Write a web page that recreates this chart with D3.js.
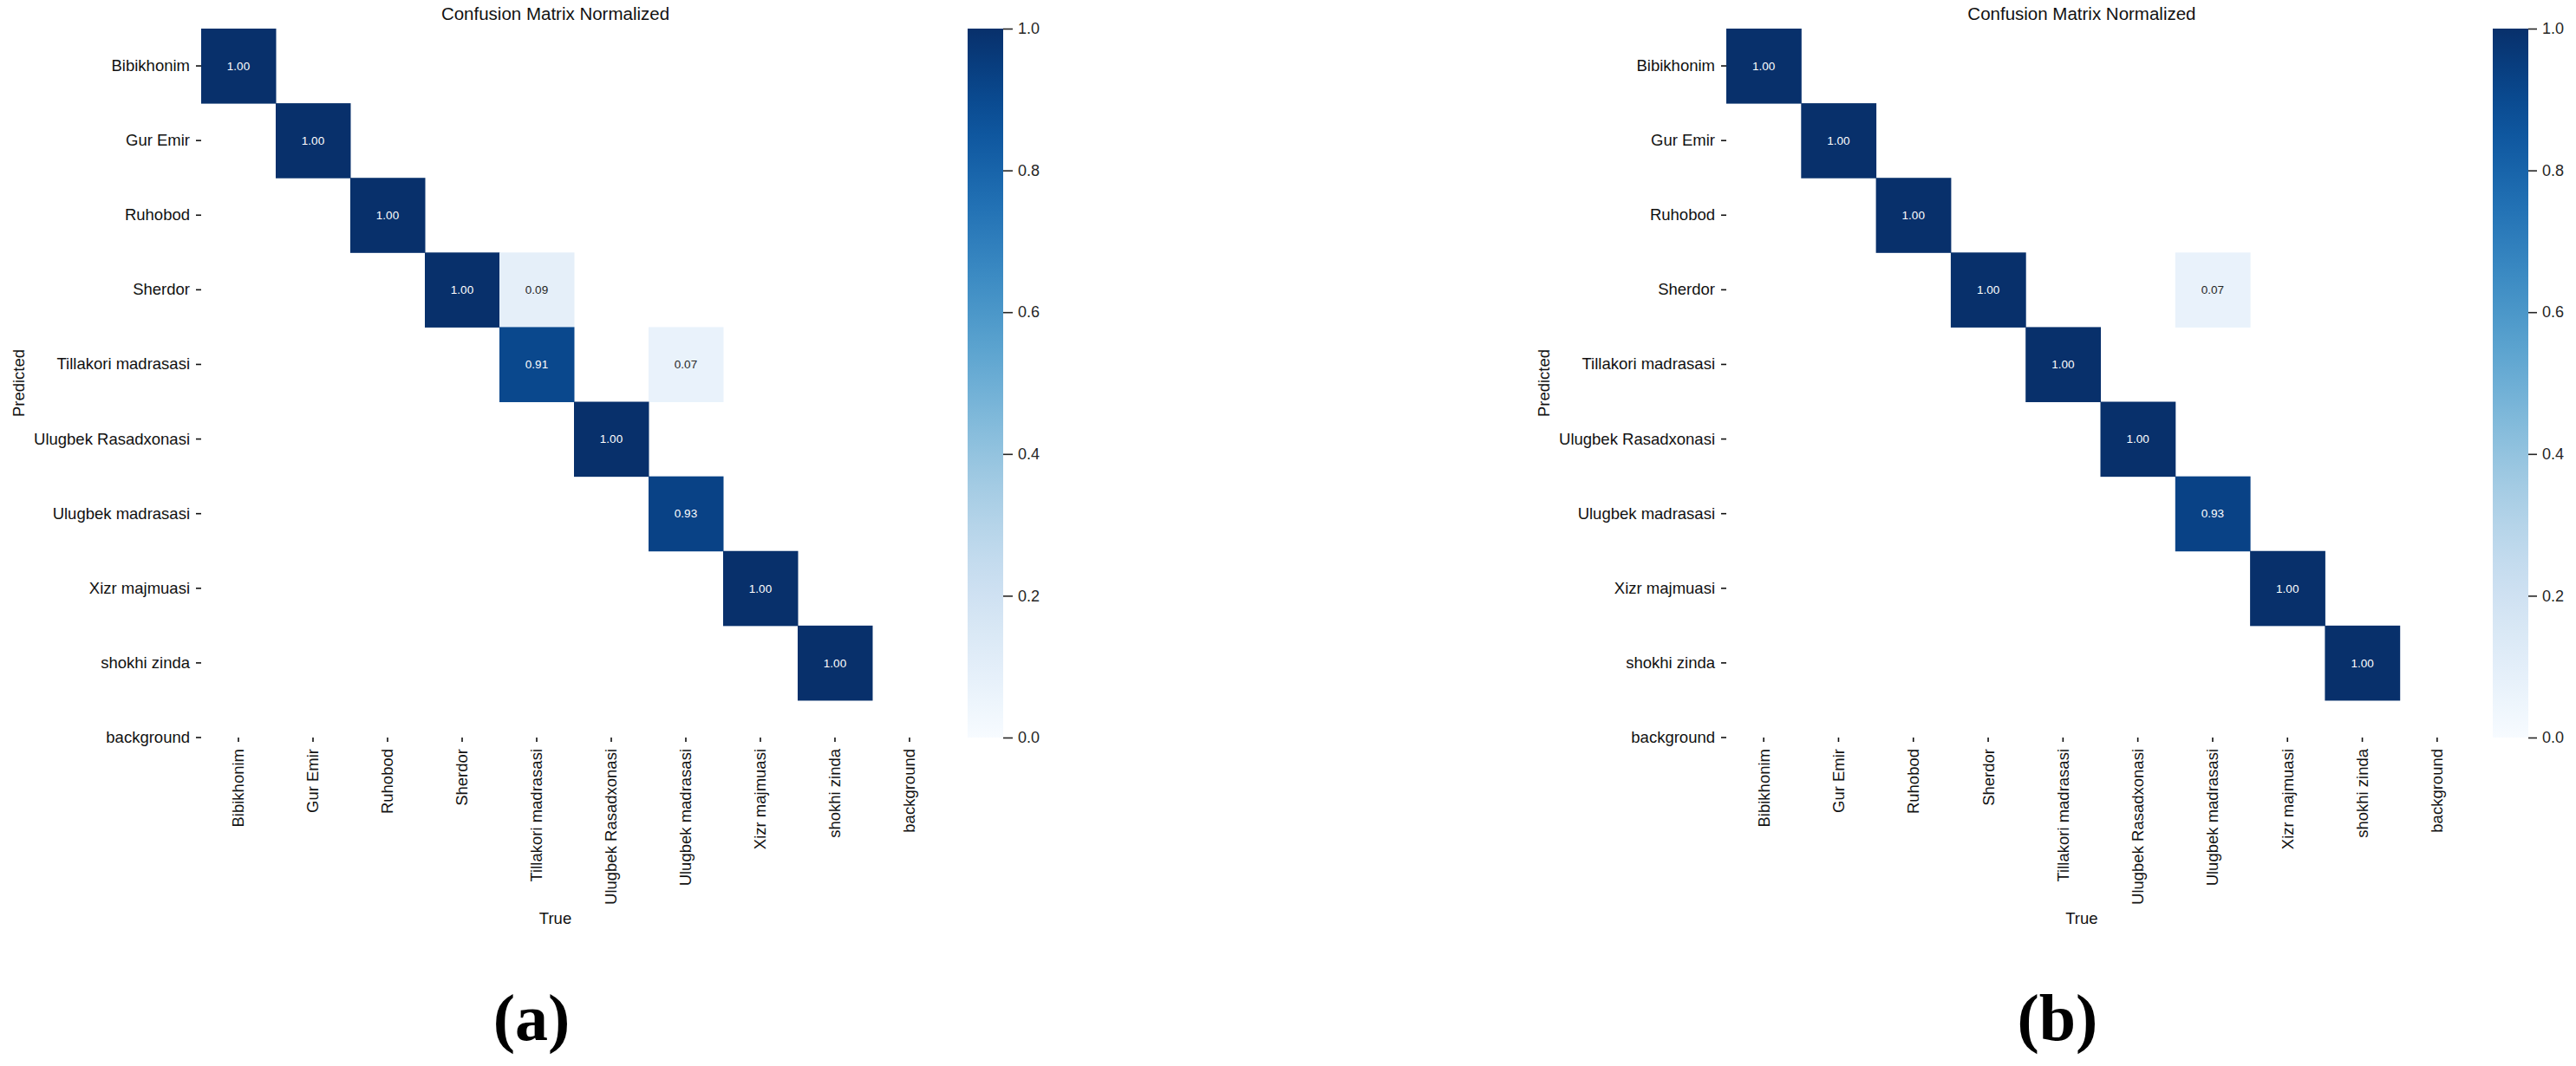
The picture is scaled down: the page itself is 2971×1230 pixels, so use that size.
<!DOCTYPE html>
<html>
<head>
<meta charset="utf-8">
<script src="https://cdn.jsdelivr.net/npm/d3@7"></script>
<style>
  body { margin: 0; background: #fff; }
  text { font-family: "Liberation Sans", Arial, sans-serif; }
</style>
</head>
<body>
<script>
// class names, same order for rows (Predicted) and columns (True)
var labels = ["Bibikhonim", "Gur Emir", "Ruhobod", "Sherdor", "Tillakori madrasasi",
  "Ulugbek Rasadxonasi", "Ulugbek madrasasi", "Xizr majmuasi", "shokhi zinda", "background"];

// normalized confusion matrix, panel (a)
var matrixA = [
  [1.00, 0, 0, 0, 0, 0, 0, 0, 0, 0],
  [0, 1.00, 0, 0, 0, 0, 0, 0, 0, 0],
  [0, 0, 1.00, 0, 0, 0, 0, 0, 0, 0],
  [0, 0, 0, 1.00, 0.09, 0, 0, 0, 0, 0],
  [0, 0, 0, 0, 0.91, 0, 0.07, 0, 0, 0],
  [0, 0, 0, 0, 0, 1.00, 0, 0, 0, 0],
  [0, 0, 0, 0, 0, 0, 0.93, 0, 0, 0],
  [0, 0, 0, 0, 0, 0, 0, 1.00, 0, 0],
  [0, 0, 0, 0, 0, 0, 0, 0, 1.00, 0],
  [0, 0, 0, 0, 0, 0, 0, 0, 0, 0]
];

// normalized confusion matrix, panel (b)
var matrixB = [
  [1.00, 0, 0, 0, 0, 0, 0, 0, 0, 0],
  [0, 1.00, 0, 0, 0, 0, 0, 0, 0, 0],
  [0, 0, 1.00, 0, 0, 0, 0, 0, 0, 0],
  [0, 0, 0, 1.00, 0, 0, 0.07, 0, 0, 0],
  [0, 0, 0, 0, 1.00, 0, 0, 0, 0, 0],
  [0, 0, 0, 0, 0, 1.00, 0, 0, 0, 0],
  [0, 0, 0, 0, 0, 0, 0.93, 0, 0, 0],
  [0, 0, 0, 0, 0, 0, 0, 1.00, 0, 0],
  [0, 0, 0, 0, 0, 0, 0, 0, 1.00, 0],
  [0, 0, 0, 0, 0, 0, 0, 0, 0, 0]
];

var colorbarTicks = [0.0, 0.2, 0.4, 0.6, 0.8, 1.0];
var panelTags = ["(a)", "(b)"];
var chartTitle = "Confusion Matrix Normalized";

var W = 2971, H = 1230;
var ink = "#262626";

var svg = d3.select("body").append("svg")
    .attr("width", W)
    .attr("height", H);

svg.append("rect").attr("width", W).attr("height", H).attr("fill", "#fff");

var color = d3.scaleSequential(d3.interpolateBlues).domain([0, 1]);

// gradient for the colour bars
var grad = svg.append("defs").append("linearGradient")
    .attr("id", "cbar")
    .attr("x1", 0).attr("y1", 1).attr("x2", 0).attr("y2", 0);
d3.range(0, 1.0001, 0.05).forEach(function(t) {
  grad.append("stop").attr("offset", t).attr("stop-color", color(t));
});

function drawPanel(matrix, opt, idx) {
  var top = 33, bottom = 851;
  var cellX = opt.cell, cellY = (bottom - top) / 9.5;
  var right = opt.left + cellX * 9.5;

  var x = d3.scaleBand().domain(labels).range([opt.left, opt.left + cellX * 10]);
  var y = d3.scaleBand().domain(labels).range([top, top + cellY * 10]);

  var g = svg.append("g");

  g.append("clipPath").attr("id", "clip" + idx)
    .append("rect")
      .attr("x", opt.left).attr("y", top)
      .attr("width", right - opt.left).attr("height", bottom - top);

  var cells = [];
  matrix.forEach(function(row, i) {
    row.forEach(function(v, j) {
      if (v > 0) cells.push({r: labels[i], c: labels[j], v: v});
    });
  });

  var cg = g.append("g").attr("clip-path", "url(#clip" + idx + ")");

  cg.selectAll("rect.cell")
      .data(cells)
    .enter().append("rect")
      .attr("class", "cell")
      .attr("x", function(d) { return x(d.c); })
      .attr("y", function(d) { return y(d.r); })
      .attr("width", x.bandwidth() + 0.5)
      .attr("height", y.bandwidth() + 0.5)
      .attr("fill", function(d) { return color(d.v); });

  cg.selectAll("text.annot")
      .data(cells)
    .enter().append("text")
      .attr("class", "annot")
      .attr("x", function(d) { return x(d.c) + x.bandwidth() / 2; })
      .attr("y", function(d) { return y(d.r) + y.bandwidth() / 2; })
      .attr("dy", "0.35em")
      .attr("text-anchor", "middle")
      .style("font-size", "13.5px")
      .attr("fill", function(d) { return d.v > 0.5 ? "#fff" : ink; })
      .text(function(d) { return d3.format(".2f")(d.v); });

  // y axis (Predicted)
  var yAxis = g.append("g")
      .attr("transform", "translate(" + opt.left + ",0)")
      .call(d3.axisLeft(y).tickSize(6).tickPadding(7));
  yAxis.select(".domain").remove();
  yAxis.selectAll("line").attr("stroke", "#111").attr("stroke-width", 1.6);
  yAxis.selectAll("text").style("font-size", "18.5px").attr("fill", "#111");

  // x axis (True)
  var xAxis = g.append("g")
      .attr("transform", "translate(0," + bottom + ")")
      .call(d3.axisBottom(x).tickSize(5));
  xAxis.select(".domain").remove();
  xAxis.selectAll("line").attr("stroke", "#111").attr("stroke-width", 1.6);
  xAxis.selectAll("text")
      .style("font-size", "18.5px")
      .attr("fill", "#111")
      .attr("transform", "rotate(-90)")
      .attr("x", -13)
      .attr("y", 0)
      .attr("dy", "0.35em")
      .style("text-anchor", "end");

  var cx = (opt.left + right) / 2;

  g.append("text")
      .attr("x", cx).attr("y", 23)
      .attr("text-anchor", "middle")
      .style("font-size", "20.5px")
      .attr("fill", "#111")
      .text(chartTitle);

  g.append("text")
      .attr("x", cx).attr("y", 1066)
      .attr("text-anchor", "middle")
      .style("font-size", "18.5px")
      .attr("fill", "#111")
      .text("True");

  g.append("text")
      .attr("transform", "translate(" + (opt.left - 204) + "," + ((top + bottom) / 2) + ") rotate(-90)")
      .attr("text-anchor", "middle")
      .style("font-size", "18.5px")
      .attr("fill", "#111")
      .text("Predicted");

  // colour bar
  var cb = d3.scaleLinear().domain([0, 1]).range([bottom, top]);
  g.append("rect")
      .attr("x", opt.cbarX).attr("y", top)
      .attr("width", 41).attr("height", bottom - top)
      .attr("fill", "url(#cbar)");
  var cAxis = g.append("g")
      .attr("transform", "translate(" + (opt.cbarX + 41) + ",0)")
      .call(d3.axisRight(cb).tickValues(colorbarTicks).tickFormat(d3.format(".1f")).tickSize(opt.cbarTick).tickPadding(6));
  cAxis.select(".domain").remove();
  cAxis.selectAll("line").attr("stroke", ink).attr("stroke-width", 1.6);
  cAxis.selectAll("text").style("font-size", "18px").attr("fill", ink);

  // panel tag
  svg.append("text")
      .attr("x", opt.tagX).attr("y", 1200)
      .attr("text-anchor", "middle")
      .style("font-family", "'Liberation Serif', 'Times New Roman', serif")
      .style("font-weight", "bold")
      .style("font-size", "76px")
      .attr("fill", "#000")
      .text(panelTags[idx]);
}

drawPanel(matrixA, {left: 232, cell: 86.0, cbarX: 1116, cbarTick: 11, tagX: 613}, 0);
drawPanel(matrixB, {left: 1991, cell: 86.3, cbarX: 2875, cbarTick: 10, tagX: 2373}, 1);
</script>
</body>
</html>
